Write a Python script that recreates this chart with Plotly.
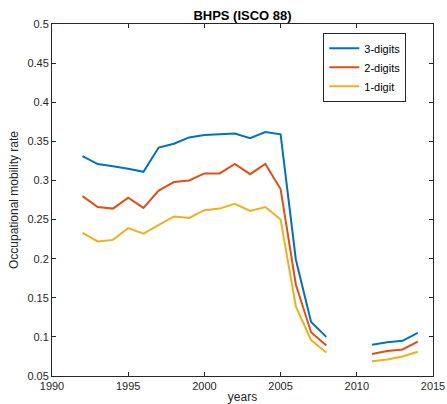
import plotly.graph_objects as go

years = [1992, 1993, 1994, 1995, 1996, 1997, 1998, 1999, 2000, 2001, 2002, 2003,
         2004, 2005, 2006, 2007, 2008, 2009, 2010, 2011, 2012, 2013, 2014]
digits3 = [0.331, 0.321, 0.318, 0.315, 0.311, 0.342, 0.347, 0.355, 0.358, 0.359, 0.360, 0.354,
           0.362, 0.359, 0.199, 0.119, 0.100, None, None, 0.090, 0.093, 0.095, 0.105]
digits2 = [0.280, 0.266, 0.264, 0.278, 0.265, 0.287, 0.298, 0.300, 0.309, 0.309, 0.321, 0.308,
           0.321, 0.289, 0.167, 0.106, 0.089, None, None, 0.078, 0.082, 0.084, 0.094]
digits1 = [0.233, 0.222, 0.224, 0.239, 0.232, 0.243, 0.254, 0.252, 0.262, 0.264, 0.270, 0.261,
           0.266, 0.250, 0.139, 0.096, 0.080, None, None, 0.069, 0.071, 0.075, 0.081]

series_names = ["3-digits", "2-digits", "1-digit"]
series_colors = ["#0072BD", "#D95319", "#EDB120"]

x_ticks = [1990, 1995, 2000, 2005, 2010, 2015]
y_ticks = [0.05, 0.1, 0.15, 0.2, 0.25, 0.3, 0.35, 0.4, 0.45, 0.5]
y_tick_labels = ["0.05", "0.1", "0.15", "0.2", "0.25", "0.3", "0.35", "0.4", "0.45", "0.5"]

fig = go.Figure()
for name, vals, col in zip(series_names, [digits3, digits2, digits1], series_colors):
    fig.add_trace(go.Scatter(x=years, y=vals, mode="lines", name=name,
                             line=dict(color=col, width=2), connectgaps=False))

axis_common = dict(showline=True, linecolor="#262626", linewidth=1, mirror="allticks",
                   ticks="inside", ticklen=4, tickcolor="#262626", showgrid=False,
                   zeroline=False, tickfont=dict(size=11, color="#262626"))

fig.update_layout(
    width=447, height=404,
    margin=dict(l=52, r=14, t=24, b=28),
    paper_bgcolor="white", plot_bgcolor="white",
    font=dict(family="Liberation Sans, Arial, sans-serif", color="#262626"),
    title=dict(text="<b>BHPS (ISCO 88)</b>", x=0.5, xref="paper", xanchor="center",
               y=1, yref="paper", yanchor="bottom", pad=dict(b=4), font=dict(size=13, color="black")),
    xaxis=dict(range=[1990, 2015], tickvals=x_ticks, title=dict(text="years", standoff=2, font=dict(size=12)),
               automargin=False, **axis_common),
    yaxis=dict(range=[0.05, 0.5], tickvals=y_ticks, ticktext=y_tick_labels,
               title=dict(text="Occupational mobility rate", standoff=6, font=dict(size=12)),
               automargin=False, **axis_common),
    legend=dict(x=0.712, y=0.975, xanchor="left", yanchor="top", bgcolor="white",
                bordercolor="#262626", borderwidth=1, font=dict(size=11, color="black"),
                tracegroupgap=0),
    showlegend=True,
)

fig.write_html("out.html", config={"displayModeBar": False},
               post_script="document.body.style.margin='0';")
